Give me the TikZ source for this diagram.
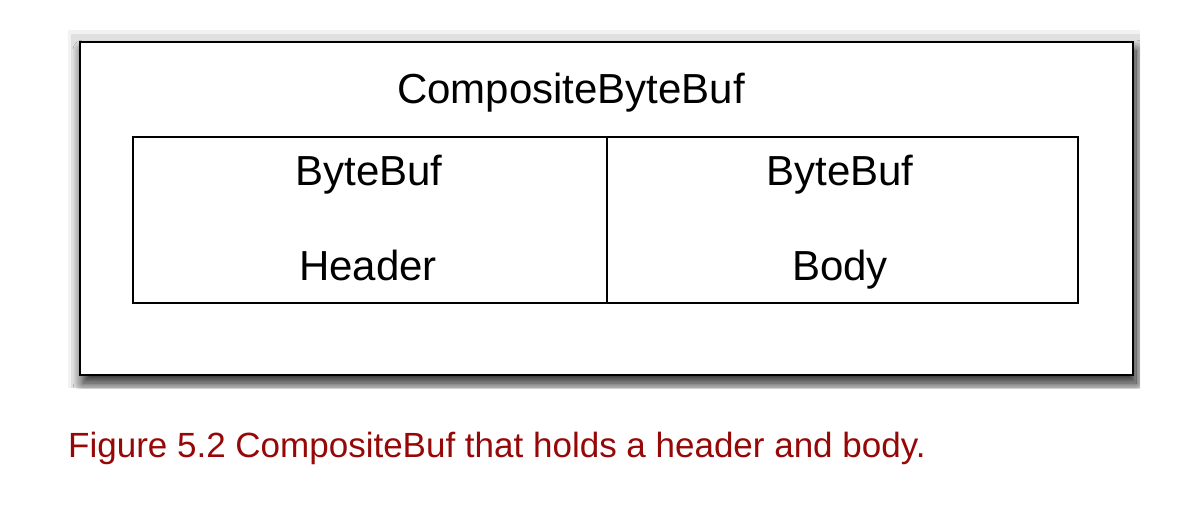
\documentclass[tikz,border=0pt]{standalone}
\usepackage{fontspec}
\setmainfont{Liberation Sans}
\usetikzlibrary{shadows.blur}
\definecolor{captionred}{RGB}{150,8,8}
\tikzset{
  outerbox/.style={draw=black, line width=2.6pt, fill=white, minimum width=1053pt, minimum height=333pt, inner sep=0pt,
    blur shadow={shadow xshift=3pt, shadow yshift=-8pt, shadow blur radius=10pt, shadow opacity=85, shadow blur steps=14}},
  glow/.style={fill=black, opacity=0.12, minimum width=1053pt, minimum height=333pt, inner sep=0pt},
  cell/.style={draw=black, line width=2.2pt, minimum height=166pt, inner sep=0pt},
  label/.style={font=\fontsize{42}{50}\selectfont, anchor=base, inner sep=0pt},
  caption/.style={font=\fontsize{35}{42}\selectfont, text=captionred, anchor=base west, inner sep=0pt}
}
\begin{document}
\begin{tikzpicture}[x=1pt, y=-1pt]
  \useasboundingbox (0,0) rectangle (1192,520);
  % soft grey panel behind the frame
  \fill[black!5] (68,30) rectangle (1140,388);
  \begin{scope}
    \clip (68,30) rectangle (1140,388);
    \fill[black!12] (71,34) rectangle (1140,388);
    \node[outerbox] (outer) at (606.5,208.5) {};
  \end{scope}
  \node[label] (title) at (571,103) {CompositeByteBuf};
  % the two buffers
  \node[cell, minimum width=474pt] (header) at (370,220) {};
  \node[cell, minimum width=471pt] (body) at (842.5,220) {};
  \node[label] (hb) at (369,185) {ByteBuf};
  \node[label] (hl) at (368,280) {Header};
  \node[label] (bb) at (840,185) {ByteBuf};
  \node[label] (bl) at (840,280) {Body};
  \node[caption] (cap) at (68,457) {Figure 5.2 CompositeBuf that holds a header and body.};
\end{tikzpicture}
\end{document}
